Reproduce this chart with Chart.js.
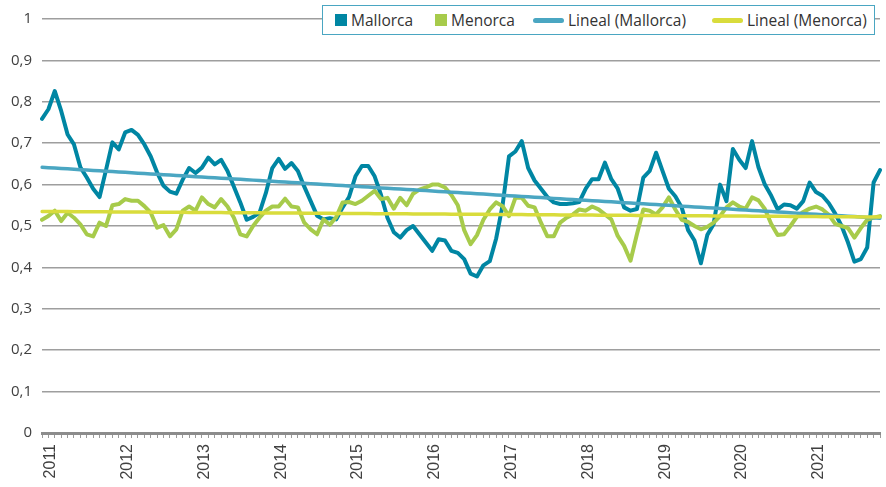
<!DOCTYPE html>
<html>
<head>
<meta charset="utf-8">
<script src="https://cdn.jsdelivr.net/npm/chart.js@4"></script>
<style>
  html, body { margin: 0; padding: 0; background: #fff; }
  #wrap { position: relative; width: 886px; height: 487px; }
  #legend {
    position: absolute; left: 322px; top: 5px; width: 551px; height: 28px;
    border: 1.5px solid #4aa6c2; background: #fff;
    font-family: "Open Sans", sans-serif; font-size: 15.5px; color: #333;
    box-sizing: content-box;
  }
  #legend span.item { position: absolute; top: 3px; display: flex; align-items: center; white-space: nowrap; }
  #legend i { display: inline-block; margin-right: 4px; }
</style>
</head>
<body>
<div id="wrap">
  <canvas id="chart" width="886" height="487"></canvas>
  <div id="legend">
    <span class="item" style="left:12px"><i style="width:12px;height:12px;background:#0086a3"></i>Mallorca</span>
    <span class="item" style="left:112px"><i style="width:12px;height:12px;background:#a7cb4b"></i>Menorca</span>
    <span class="item" style="left:210px"><i style="width:31px;height:5px;border-radius:3px;background:#4aa6c2"></i>Lineal (Mallorca)</span>
    <span class="item" style="left:389px"><i style="width:31px;height:5px;border-radius:3px;background:#d9dc3c"></i>Lineal (Menorca)</span>
  </div>
</div>
<script>
// monthly series, January 2011 .. December 2021
const years = [2011, 2012, 2013, 2014, 2015, 2016, 2017, 2018, 2019, 2020, 2021];

const mallorca = [
  0.759, 0.782, 0.826, 0.778, 0.721, 0.697, 0.642, 0.617, 0.590, 0.570, 0.635, 0.702,
  0.685, 0.726, 0.732, 0.720, 0.697, 0.668, 0.629, 0.597, 0.583, 0.578, 0.612, 0.640,
  0.628, 0.641, 0.665, 0.649, 0.660, 0.633, 0.595, 0.557, 0.515, 0.522, 0.532, 0.580,
  0.640, 0.662, 0.638, 0.652, 0.633, 0.595, 0.560, 0.525, 0.516, 0.519, 0.516, 0.545,
  0.570, 0.620, 0.645, 0.645, 0.620, 0.575, 0.520, 0.485, 0.472, 0.490, 0.500, 0.480,
  0.460, 0.440, 0.468, 0.465, 0.440, 0.435, 0.420, 0.385, 0.378, 0.405, 0.415, 0.470,
  0.550, 0.668, 0.680, 0.705, 0.640, 0.610, 0.590, 0.570, 0.557, 0.553, 0.553, 0.555,
  0.558, 0.590, 0.613, 0.613, 0.653, 0.613, 0.590, 0.545, 0.537, 0.541, 0.617, 0.633,
  0.677, 0.633, 0.590, 0.572, 0.545, 0.490, 0.465, 0.410, 0.478, 0.505, 0.600, 0.560,
  0.686, 0.660, 0.640, 0.705, 0.642, 0.600, 0.573, 0.540, 0.552, 0.550, 0.542, 0.560,
  0.605, 0.582, 0.573, 0.555, 0.530, 0.500, 0.460, 0.414, 0.420, 0.448, 0.605, 0.635
];

const menorca = [
  0.515, 0.524, 0.537, 0.512, 0.532, 0.520, 0.504, 0.480, 0.475, 0.508, 0.500, 0.550,
  0.553, 0.565, 0.561, 0.561, 0.548, 0.532, 0.496, 0.502, 0.475, 0.492, 0.537, 0.547,
  0.537, 0.569, 0.553, 0.545, 0.565, 0.547, 0.520, 0.480, 0.475, 0.500, 0.520, 0.537,
  0.547, 0.547, 0.566, 0.547, 0.545, 0.508, 0.492, 0.480, 0.516, 0.503, 0.522, 0.557,
  0.558, 0.553, 0.561, 0.573, 0.585, 0.565, 0.568, 0.542, 0.568, 0.550, 0.578, 0.588,
  0.593, 0.600, 0.600, 0.593, 0.575, 0.550, 0.490, 0.456, 0.478, 0.515, 0.540, 0.557,
  0.548, 0.524, 0.568, 0.568, 0.549, 0.545, 0.508, 0.475, 0.475, 0.508, 0.520, 0.528,
  0.540, 0.537, 0.547, 0.540, 0.528, 0.516, 0.476, 0.452, 0.416, 0.480, 0.540, 0.537,
  0.528, 0.545, 0.569, 0.540, 0.515, 0.510, 0.500, 0.492, 0.498, 0.508, 0.524, 0.545,
  0.557, 0.547, 0.542, 0.569, 0.562, 0.541, 0.505, 0.478, 0.480, 0.500, 0.522, 0.534,
  0.542, 0.547, 0.540, 0.527, 0.505, 0.500, 0.495, 0.472, 0.495, 0.515, 0.520, 0.524
];

const months = [];
years.forEach(y => { for (let m = 1; m <= 12; m++) months.push(y + '-' + m); });

// Excel "Lineal" trendline = least squares fit over the month index
function linearTrend(values) {
  const n = values.length;
  let sx = 0, sy = 0, sxy = 0, sxx = 0;
  values.forEach((v, i) => { sx += i; sy += v; sxy += i * v; sxx += i * i; });
  const b = (n * sxy - sx * sy) / (n * sxx - sx * sx);
  const a = (sy - b * sx) / n;
  return values.map((_, i) => a + b * i);
}

const font = { family: '"Open Sans", sans-serif', size: 15 };

new Chart(document.getElementById('chart'), {
  type: 'line',
  data: {
    labels: months,
    datasets: [
      { label: 'Mallorca', data: mallorca, borderColor: '#0086a3', borderWidth: 4, order: 4 },
      { label: 'Menorca', data: menorca, borderColor: '#a7cb4b', borderWidth: 4, order: 3 },
      { label: 'Lineal (Mallorca)', data: linearTrend(mallorca), borderColor: '#4aa6c2', borderWidth: 3.5, order: 2 },
      { label: 'Lineal (Menorca)', data: linearTrend(menorca), borderColor: '#d9dc3c', borderWidth: 3.5, order: 1 }
    ]
  },
  options: {
    responsive: false,
    animation: false,
    layout: { padding: { top: 19, right: 6, left: 0, bottom: 0 } },
    elements: {
      point: { radius: 0 },
      line: { tension: 0, borderJoinStyle: 'round', borderCapStyle: 'round', fill: false }
    },
    plugins: { legend: { display: false }, tooltip: { enabled: false } },
    scales: {
      x: {
        offset: false,
        grid: { drawOnChartArea: false, drawTicks: true, tickLength: 5, tickColor: '#9a9a9a', lineWidth: 1 },
        border: { display: true, color: '#8c8c8c', width: 3 },
        ticks: {
          autoSkip: false, minRotation: 90, maxRotation: 90, padding: 6, labelOffset: 9,
          color: '#404040', font: { family: '"Liberation Sans", Arial, sans-serif', size: 16 },
          callback: (v, i) => (i % 12 === 0 ? String(years[i / 12]) : '')
        },
        afterFit: s => { s.height = 54; s.paddingLeft = 0; s.paddingRight = 0; }
      },
      y: {
        min: 0, max: 1,
        grid: { color: '#9e9e9e', lineWidth: 1.5, drawTicks: false },
        border: { display: false },
        ticks: {
          stepSize: 0.1, padding: 10, color: '#404040', font: font,
          callback: v => (v === 0 || v === 1 ? String(v) : v.toFixed(1).replace('.', ','))
        },
        afterFit: s => { s.width = 42; }
      }
    }
  }
});
</script>
</body>
</html>
